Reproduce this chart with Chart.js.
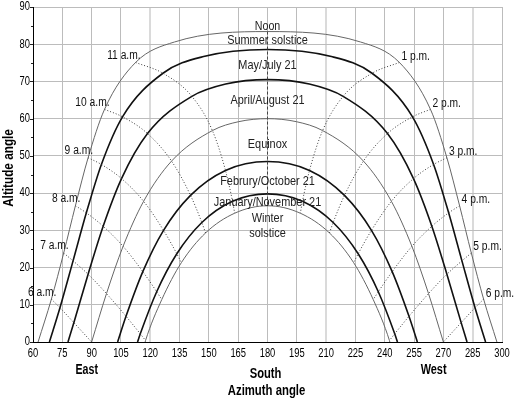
<!DOCTYPE html>
<html>
<head>
<meta charset="utf-8">
<script src="https://cdn.jsdelivr.net/npm/chart.js@4.4.0/dist/chart.umd.min.js"></script>
<style>
    html, body { margin: 0; padding: 0; background: #fff; }
    #grafico-wrap { width: 515px; height: 399px; }
</style>
</head>
<body>
<div id="grafico-wrap"><canvas id="grafico" width="515" height="399"></canvas></div>
<script>
// Momentos (nascer, horas, meia hora perto do meio-dia, por)
var horarios = ['nascer', '6 a.m.', '7 a.m.', '8 a.m.', '9 a.m.', '10 a.m.', '11 a.m.', '11:30', 'Noon',
                '12:30', '1 p.m.', '2 p.m.', '3 p.m.', '4 p.m.', '5 p.m.', '6 p.m.', 'por'];

// Datas (curvas do sol)
var datas = ['Summer solstice', 'May/July 21', 'April/August 21', 'Equinox',
             'Februry/October 21', 'January/November 21', 'Winter solstice'];

// Azimute e altitude de cada data, na ordem de horarios (null = sol abaixo do horizonte)
var azVerao   = [62.6, 69.4, 75.7, 81.7, 88.2, 96.6, 112.5, 132.4, 180, 227.6, 247.5, 263.4, 271.8, 278.3, 284.3, 290.6, 297.4];
var altVerao  = [0, 11.5, 23.9, 36.6, 49.5, 62.5, 75.1, 80.6, 83.4, 80.6, 75.1, 62.5, 49.5, 36.6, 23.9, 11.5, 0];

var azMaio    = [68.4, 73.8, 80.5, 87.3, 95.0, 105.8, 126.5, 147.3, 180, 212.7, 233.5, 254.2, 265.0, 272.7, 279.5, 286.2, 291.6];
var altMaio   = [0, 9.2, 21.8, 34.7, 47.7, 60.5, 72.2, 76.7, 78.6, 76.7, 72.2, 60.5, 47.7, 34.7, 21.8, 9.2, 0];

var azAbril   = [77.9, 80.9, 88.2, 95.9, 105.3, 118.6, 141.3, 158.6, 180, 201.4, 218.7, 241.4, 254.7, 264.1, 271.8, 279.1, 282.1];
var altAbril  = [0, 5.2, 18.2, 31.1, 43.9, 56.0, 66.0, 69.3, 70.5, 69.3, 66.0, 56.0, 43.9, 31.1, 18.2, 5.2, 0];

var azEquinocio  = [null, 90, 97.6, 106.1, 116.6, 130.9, 151.8, 165.3, 180, 194.7, 208.2, 229.1, 243.4, 253.9, 262.4, 270, null];
var altEquinocio = [null, 0, 13.0, 25.7, 37.8, 48.6, 56.8, 59.2, 60, 59.2, 56.8, 48.6, 37.8, 25.7, 13.0, 0, null];

var azFevereiro  = [103.3, null, 107.6, 116.2, 126.8, 140.6, 158.5, null, 180, null, 201.5, 219.4, 233.2, 243.8, 252.4, null, 256.7];
var altFevereiro = [0, null, 6.9, 18.9, 30.0, 39.4, 46.1, null, 48.5, null, 46.1, 39.4, 30.0, 18.9, 6.9, null, 0];

var azJaneiro    = [113.5, null, 114.9, 123.3, 133.6, 146.4, 162.1, null, 180, null, 197.9, 213.6, 226.4, 236.7, 245.1, null, 246.5];
var altJaneiro   = [0, null, 2.2, 13.5, 23.7, 32.1, 37.8, null, 39.8, null, 37.8, 32.1, 23.7, 13.5, 2.2, null, 0];

var azInverno    = [117.4, null, 117.6, 125.9, 135.9, 148.3, 163.2, null, 180, null, 196.8, 211.7, 224.1, 234.1, 242.4, null, 242.6];
var altInverno   = [0, null, 0.4, 11.4, 21.3, 29.3, 34.6, null, 36.6, null, 34.6, 29.3, 21.3, 11.4, 0.4, null, 0];

// Marcas dos eixos
var ticksAzimute = [60, 75, 90, 105, 120, 135, 150, 165, 180, 195, 210, 225, 240, 255, 270, 285, 300];
var ticksAltitude = [0, 10, 20, 30, 40, 50, 60, 70, 80, 90];

var azimutes = [azVerao, azMaio, azAbril, azEquinocio, azFevereiro, azJaneiro, azInverno];
var altitudes = [altVerao, altMaio, altAbril, altEquinocio, altFevereiro, altJaneiro, altInverno];

// Fonte estreita: Liberation Sans comprimida na horizontal
var fonte = '"Liberation Sans", Arial, sans-serif';

// Estilo de cada curva (fina cinza ou grossa preta)
var grossas = [false, true, true, false, true, true, false];

var datasets = [];

// Linhas das horas (pontilhadas)
var horasLinha = ['6 a.m.', '7 a.m.', '8 a.m.', '9 a.m.', '10 a.m.', '11 a.m.',
                  '1 p.m.', '2 p.m.', '3 p.m.', '4 p.m.', '5 p.m.', '6 p.m.'];
for (let h = 0; h < horasLinha.length; h++) {
    let k = horarios.indexOf(horasLinha[h]);
    let pontos = [];
    for (let d = 0; d < datas.length; d++) {
        if (azimutes[d][k] !== null) {
            pontos.push({ x: azimutes[d][k], y: altitudes[d][k] });
        }
    }
    datasets.push({
        data: pontos,
        showLine: true,
        borderColor: '#3a3a3a',
        borderWidth: 1,
        borderDash: [1, 2],
        pointRadius: 0,
        cubicInterpolationMode: 'monotone'
    });
}

// Linha do meio-dia (tracejada)
var kNoon = horarios.indexOf('Noon');
var pontosNoon = [];
for (let d = 0; d < datas.length; d++) {
    pontosNoon.push({ x: azimutes[d][kNoon], y: altitudes[d][kNoon] });
}
datasets.push({
    data: pontosNoon,
    showLine: true,
    borderColor: '#444',
    borderWidth: 1,
    borderDash: [3, 2],
    pointRadius: 0
});

// Curvas das datas
for (let d = 0; d < datas.length; d++) {
    let pontos = [];
    for (let k = 0; k < horarios.length; k++) {
        if (azimutes[d][k] !== null) {
            pontos.push({ x: azimutes[d][k], y: altitudes[d][k] });
        }
    }
    datasets.push({
        label: datas[d],
        data: pontos,
        showLine: true,
        borderColor: grossas[d] ? '#111' : '#666',
        borderWidth: grossas[d] ? 1.6 : 1,
        pointRadius: 0,
        cubicInterpolationMode: 'monotone'
    });
}

// Posicao dos rotulos das curvas (altitude em x = 180)
var rotulosAlt = [81.1, 74.4, 65.0, 53.2, 43.2, 37.6, 33.3];

// Escreve texto comprimido na horizontal
function escreve(ctx, txt, x, y, alinhamento, css, escala) {
    ctx.save();
    ctx.translate(x, y);
    ctx.scale(escala, 1);
    ctx.font = css;
    ctx.textAlign = alinhamento;
    ctx.textBaseline = 'middle';
    ctx.fillText(txt, 0, 0);
    ctx.restore();
}

// Textos e marcas do grafico
var textos = {
    id: 'textos',
    afterDraw: function(chart) {
        var ctx = chart.ctx;
        var sx = chart.scales.x;
        var sy = chart.scales.y;
        var area = chart.chartArea;
        ctx.save();

        // Marcas do eixo y (maiores e menores)
        ctx.strokeStyle = '#222';
        ctx.lineWidth = 1;
        for (let v = 0; v <= 90; v += 5) {
            let py = Math.round(sy.getPixelForValue(v)) + 0.5;
            let tam = (v % 10 === 0) ? 3 : 2;
            ctx.beginPath();
            ctx.moveTo(area.left - tam, py);
            ctx.lineTo(area.left, py);
            ctx.stroke();
        }

        // Rotulos dos eixos
        ctx.fillStyle = '#000';
        sy.ticks.forEach(function(t) {
            escreve(ctx, String(t.value), area.left - 3, sy.getPixelForValue(t.value), 'right', '12px ' + fonte, 0.78);
        });
        sx.ticks.forEach(function(t) {
            escreve(ctx, String(t.value), sx.getPixelForValue(t.value), area.bottom + 11.5, 'center', '12px ' + fonte, 0.78);
        });

        // Rotulos das curvas
        ctx.fillStyle = '#222';
        var xc = sx.getPixelForValue(180);
        escreve(ctx, 'Noon', xc, sy.getPixelForValue(84.9), 'center', '13px ' + fonte, 0.82);
        for (let d = 0; d < datas.length; d++) {
            let py = sy.getPixelForValue(rotulosAlt[d]);
            if (d === datas.length - 1) {
                let partes = datas[d].split(' ');
                escreve(ctx, partes[0], xc, py, 'center', '13px ' + fonte, 0.84);
                escreve(ctx, partes[1], xc, py + 15, 'center', '13px ' + fonte, 0.84);
            } else {
                escreve(ctx, datas[d], xc, py, 'center', '13px ' + fonte, 0.84);
            }
        }

        // Rotulos das horas (junto da curva do solsticio de verao)
        ctx.fillStyle = '#111';
        for (let h = 0; h < horasLinha.length; h++) {
            let k = horarios.indexOf(horasLinha[h]);
            let px = sx.getPixelForValue(azVerao[k]);
            let py = sy.getPixelForValue(altVerao[k]);
            if (horasLinha[h].indexOf('a.m.') > 0) {
                escreve(ctx, horasLinha[h], px + 5, py - 7, 'right', '12.5px ' + fonte, 0.82);
            } else {
                escreve(ctx, horasLinha[h], px + 2, py - 6, 'left', '12.5px ' + fonte, 0.82);
            }
        }

        // Titulos dos eixos
        ctx.fillStyle = '#000';
        var negrito = 'bold 14px ' + fonte;
        escreve(ctx, 'East', sx.getPixelForValue(87.5), area.bottom + 28.5, 'center', negrito, 0.76);
        escreve(ctx, 'South', sx.getPixelForValue(179), area.bottom + 32, 'center', negrito, 0.8);
        escreve(ctx, 'West', sx.getPixelForValue(265), area.bottom + 28.5, 'center', negrito, 0.78);
        escreve(ctx, 'Azimuth angle', sx.getPixelForValue(179.5), area.bottom + 49.5, 'center', negrito, 0.81);

        ctx.translate(9, 168);
        ctx.rotate(-Math.PI / 2);
        escreve(ctx, 'Altitude angle', 0, 0, 'center', negrito, 0.84);
        ctx.restore();
    }
};

new Chart('grafico', {
    type: 'scatter',
    data: { datasets: datasets },
    options: {
        responsive: false,
        animation: false,
        layout: { padding: { left: 0, right: 13, top: 7, bottom: 0 } },
        plugins: {
            legend: { display: false },
            tooltip: { enabled: false }
        },
        scales: {
            x: {
                type: 'linear',
                min: 60,
                max: 300,
                afterFit: function(scale) { scale.height = 57; },
                afterBuildTicks: function(scale) {
                    scale.ticks = ticksAzimute.map(function(v) { return { value: v }; });
                },
                ticks: { display: false },
                grid: {
                    drawTicks: false,
                    color: function(c) {
                        var v = c.tick ? c.tick.value : 0;
                        return (v === 120 || v === 210 || v === 285) ? '#dadada' : '#bcbcbc';
                    },
                    lineWidth: function(c) {
                        var v = c.tick ? c.tick.value : 0;
                        return (v === 120 || v === 210 || v === 285) ? 2 : 1;
                    }
                },
                border: { color: '#000', width: 1 }
            },
            y: {
                type: 'linear',
                min: 0,
                max: 90,
                afterFit: function(scale) { scale.width = 33; },
                afterBuildTicks: function(scale) {
                    scale.ticks = ticksAltitude.map(function(v) { return { value: v }; });
                },
                ticks: { display: false },
                grid: { color: '#bcbcbc', drawTicks: false },
                border: { color: '#000', width: 1 }
            }
        }
    },
    plugins: [textos]
});
</script>
</body>
</html>
